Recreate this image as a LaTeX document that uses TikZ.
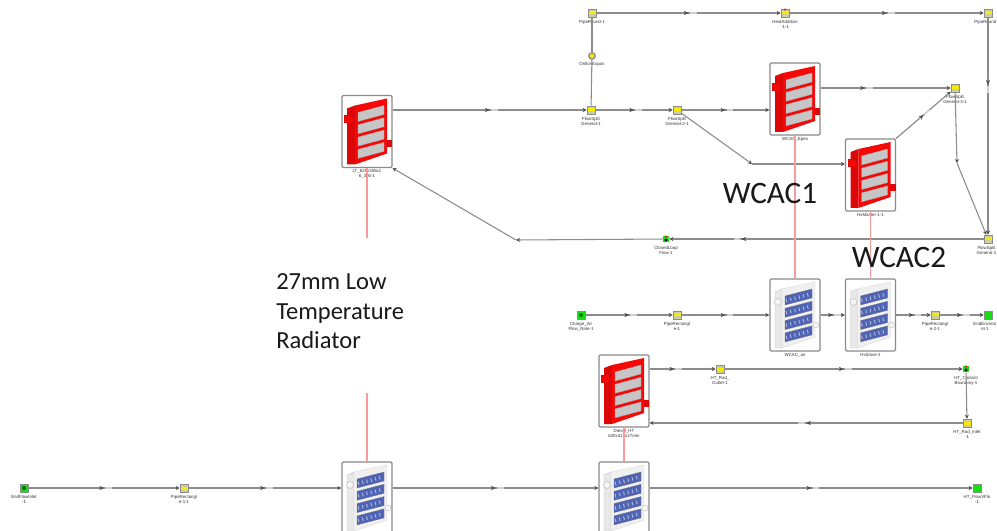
\documentclass[tikz,border=0pt]{standalone}
\usepackage{fontspec}
\setmainfont{Carlito}
\newfontfamily\lblfont{Liberation Sans}
\usetikzlibrary{arrows.meta,decorations.markings}
\definecolor{pipe}{HTML}{8C8C8C}
\definecolor{boxline}{HTML}{8A8A8A}
\definecolor{hotred}{HTML}{F40808}
\definecolor{hotdark}{HTML}{DC0808}
\definecolor{coldblue}{HTML}{4F64B4}
\definecolor{linkred}{HTML}{FA9A9A}
\definecolor{portyellow}{HTML}{F5EC00}
\definecolor{portbody}{HTML}{CFCDA0}
\definecolor{portgreen}{HTML}{12E012}
\tikzset{
  x=0.75pt,y=-0.75pt,
  conn/.style={draw=pipe,line width=0.9pt,-{Stealth[length=3pt,width=3pt,color=black!70]},
    postaction={decorate,decoration={markings,mark=at position #1 with {
      \fill[white,opacity=.6] (1pt,-0.5pt) rectangle (6pt,0.5pt);
      \arrow{Stealth[length=3.5pt,width=3.2pt,color=black!70]}}}}},
  conn/.default=0.5,
  seg/.style={draw=pipe,line width=0.8pt,-{Stealth[length=3pt,width=3pt,color=black!70]}},
  plain/.style={draw=pipe,line width=0.8pt},
  radbox/.style={draw=boxline,line width=0.9pt,fill=white,rounded corners=1pt,minimum width=37.5pt,minimum height=54pt,inner sep=0pt},
  port/.style={draw=black!45,fill=portbody,line width=0.4pt,minimum width=6pt,minimum height=6pt,inner sep=0pt},
  endport/.style={draw=black!45,fill=portgreen,line width=0.4pt,minimum width=6pt,minimum height=6pt,inner sep=0pt},
  smallgreen/.style={fill=portgreen,minimum width=4.5pt,minimum height=4.5pt,inner sep=0pt},
  tiny/.style={font=\lblfont\fontsize{3.3}{3.8}\selectfont,align=center,text=black!80,inner sep=0pt},
  big/.style={font=\fontsize{23.4}{26}\selectfont,text=black!90,inner sep=0pt},
  link/.style={draw=linkred,line width=0.8pt},
  pics/hotcore/.style={code={
    \fill[hotdark] (-23,-16) rectangle (-13,-8);
    \fill[hotdark] (19,9) rectangle (25,16);
    \fill[hotdark] (-20,-23) -- (-12,-26) -- (-12,33) -- (-20,33) -- cycle;
    \fill[hotred] (-12,-26) -- (20,-33) -- (20,22) -- (-12,33) -- cycle;
    \fill[hotred] (-18,-12) ellipse (4 and 3.5);
    \foreach \k in {0,1,2,3}{
      \fill[gray!45,draw=black!35,line width=0.2pt] (-9,{-19+\k*12.3}) -- (17,{-26+\k*12.3}) -- (17,{-17+\k*12.3}) -- (-9,{-10+\k*12.3}) -- cycle;}
  }},
  pics/coldcore/.style={code={
    \fill[black!9,draw=black!22,line width=0.3pt] (-20,-23) -- (-13,-26) -- (-13,33) -- (-20,33) -- cycle;
    \fill[black!6,draw=black!15,line width=0.3pt] (-13,-26) -- (20,-33) -- (20,22) -- (-13,33) -- cycle;
    \draw[black!30,line width=0.3pt,fill=black!4] (-17,-13) circle (3.5);
    \draw[black!25,line width=0.3pt,fill=black!4] (21,10) circle (3);
    \foreach \k in {0,1,2,3}{
      \fill[coldblue,draw=black!55,line width=0.2pt] (-10,{-19+\k*12.3}) -- (17,{-26+\k*12.3}) -- (17,{-17+\k*12.3}) -- (-10,{-10+\k*12.3}) -- cycle;
      \draw[coldblue!45!white,line width=2.6pt,dash pattern=on 0.7pt off 2.6pt] (-9,{-14.5+\k*12.3}) -- (16,{-21+\k*12.3});}
  }},
}
\newcommand{\smallpart}[5]{% name, style, x, y, label
  \node[#2] (#1) at (#3,#4) {};
  \fill[portyellow] (#3-3.5,#4-1.5) rectangle (#3+3.5,#4+1.5);
  \node[tiny,anchor=north] at (#3,#4+7) {#5};}
\newcommand{\edgepart}[5]{% same, with the label kept inside the right edge
  \node[#2] (#1) at (#3,#4) {};
  \fill[portyellow] (#3-3.5,#4-1.5) rectangle (#3+3.5,#4+1.5);
  \node[tiny,anchor=north east] at (996.5,#4+7) {#5};}
\newcommand{\greenpart}[5]{%
  \node[#2] (#1) at (#3,#4) {};
  \node[tiny,anchor=north] at (#3,#4+7) {#5};}
\begin{document}
\begin{tikzpicture}
\useasboundingbox (0,0) rectangle (997,531);
\clip (0,0) rectangle (997,531);
\fill[white] (0,0) rectangle (997,531);

% radiators
\node[radbox] (lt) at (367,131.5) {};
\node[radbox] (wh) at (795,99) {};
\node[radbox] (hm) at (870.5,175) {};
\node[radbox] (wa) at (795,315) {};
\node[radbox] (hs) at (870.5,315) {};
\node[radbox] (ch) at (624,391) {};
\node[radbox] (bc) at (624,498) {};
\node[radbox] (lc) at (367,498) {};

% helper coordinates
\coordinate (bendA) at (752,164);
\coordinate (bendB) at (957,163);
\coordinate (retbend) at (516,240);
\coordinate (ltfree1) at (367,238);
\coordinate (ltfree2) at (367,393);

% small parts
\smallpart{pr1}{port}{592}{13}{PipeRound-1}
\smallpart{ha}{port}{785}{13}{HeatAddition\\-1-1}
\edgepart{pr2}{port}{988}{13}{PipeRound}
\node[port,circle,minimum size=5.5pt,fill=portbody!80!black] (orf) at (592,56) {};
\fill[portyellow] (592,56) circle (2);
\node[tiny,anchor=north] at (592,62) {OrificeExpan};
\smallpart{fs1}{port}{591}{110}{FlowSplit\\General-1}
\smallpart{fs2}{port}{677}{110}{FlowSplit\\General-2-1}
\smallpart{fs3}{port}{955}{88}{FlowSplit\\General-3-1}
\edgepart{fs4}{port}{988}{239}{FlowSplit\\General-1}
\greenpart{cl}{smallgreen}{666}{239}{ClosedLoop\\Flow-1}
\fill[black] (666,240) circle (1.6);
\fill[red] (666,236.5) circle (1.1);
\greenpart{ca}{endport}{581}{315}{Charge\_Air\\Flow\_Rate-1}
\fill[green!45!black] (581,315) circle (2);
\smallpart{pa}{port}{677}{315}{PipeRectangl\\e-1}
\smallpart{pb}{port}{935}{315}{PipeRectangl\\e-2-1}
\node[endport] (ee) at (988,315) {};
\node[tiny,anchor=north east] at (996.5,322) {EndEnviron\\nt-1};
\smallpart{ho}{port}{720}{369}{HT\_Rad\_\\Outlet-1}
\greenpart{hb}{smallgreen}{966}{369}{HT\_Coolant\\Boundary-1}
\fill[black] (966,370) circle (1.6);
\fill[red] (966,366.5) circle (1.1);
\smallpart{hi}{port}{967}{423}{HT\_Rad\_Inlet\\-1}
\greenpart{ef}{endport}{24}{488}{EndFlowInlet\\-1}
\fill[green!45!black] (24,488) circle (2);
\smallpart{pc}{port}{184}{488}{PipeRectangl\\e-1-1}
\greenpart{hf}{endport}{977}{488}{HT\_FlowVFlo\\-1}
\fill[red] (785,9.5) circle (1.2);

% connectors
\draw[plain] (pr1) -- (orf);
\draw[plain] (orf) -- (fs1);
\draw[conn] (pr1) -- (ha);
\draw[conn] (ha) -- (pr2);
\draw[conn=0.31] (pr2) -- (fs4);
\draw[conn] (lt.east |- fs1) -- (fs1);
\draw[conn] (fs1) -- (fs2);
\draw[conn] (fs2) -- (wh.west |- fs2);
\draw[seg] (fs2) -- (bendA);
\draw[seg] (bendA) -- (hm.west |- bendA);
\draw[conn=0.34] (wh.east |- fs3) -- (fs3);
\draw[conn] (hm.north east) -- (fs3);
\draw[seg] (fs3) -- (bendB);
\draw[seg] (bendB) -- (fs4);
\draw[conn=0.77] (fs4) -- (cl);
\draw[seg] (cl) -- (retbend);
\draw[seg] (retbend) -- (lt.south east);
\draw[conn] (ca) -- (pa);
\draw[conn] (pa) -- (wa);
\draw[conn] (wa) -- (hs);
\draw[conn] (hs) -- (pb);
\draw[conn] (pb) -- (ee);
\draw[conn=0.37] (ch.east |- ho) -- (ho);
\draw[conn] (ho) -- (hb);
\draw[seg] (hb) -- (hi);
\draw[conn] (hi) -- (ch.east |- hi);
\draw[conn] (ef) -- (pc);
\draw[conn] (pc) -- (lc.west |- pc);
\draw[conn] (lc.east |- pc) -- (bc.west |- pc);
\draw[conn] (bc.east |- hf) -- (hf);

% radiator artwork
\pic at (lt) {hotcore};
\pic at (wh) {hotcore};
\pic at (hm) {hotcore};
\pic at (ch) {hotcore};
\pic at (wa) {coldcore};
\pic at (hs) {coldcore};
\pic at (bc) {coldcore};
\pic at (lc) {coldcore};

% radiator labels
\node[tiny,anchor=north] at (lt.south) [yshift=-1pt] {LT\_620x306x1\\6\_300-1};
\node[tiny,anchor=north] at (wh.south) [yshift=-1pt] {WCAC\_Epes};
\node[tiny,anchor=north] at (hm.south) [yshift=-1pt] {HxMaster-1-1};
\node[tiny,anchor=north] at (wa.south) [yshift=-1pt] {WCAC\_air};
\node[tiny,anchor=north] at (hs.south) [yshift=-1pt] {HxSlave-1};
\node[tiny,anchor=north] at (ch.south) [yshift=-1pt] {Diesel\_HT\\620x316x27mm};

% red links between hot and cold sides
\draw[link] (lt.south) -- (ltfree1);
\draw[link] (ltfree2) -- (lc.north);
\draw[link] (wh.south) -- (wa.north);
\draw[link] (hm.south) -- (hs.north);
\draw[link] (ch.south) -- (bc.north);

% big annotations
\node[big,anchor=center] (t1) at (770,193) {WCAC1};
\node[big,anchor=center] (t2) at (899,257) {WCAC2};
\node[anchor=north west,align=left,inner sep=0pt,font=\fontsize{18.4}{22.1}\selectfont,text=black!90] (t3) at (276,273.5) {27mm Low\\Temperature\\Radiator};
\end{tikzpicture}
\end{document}
